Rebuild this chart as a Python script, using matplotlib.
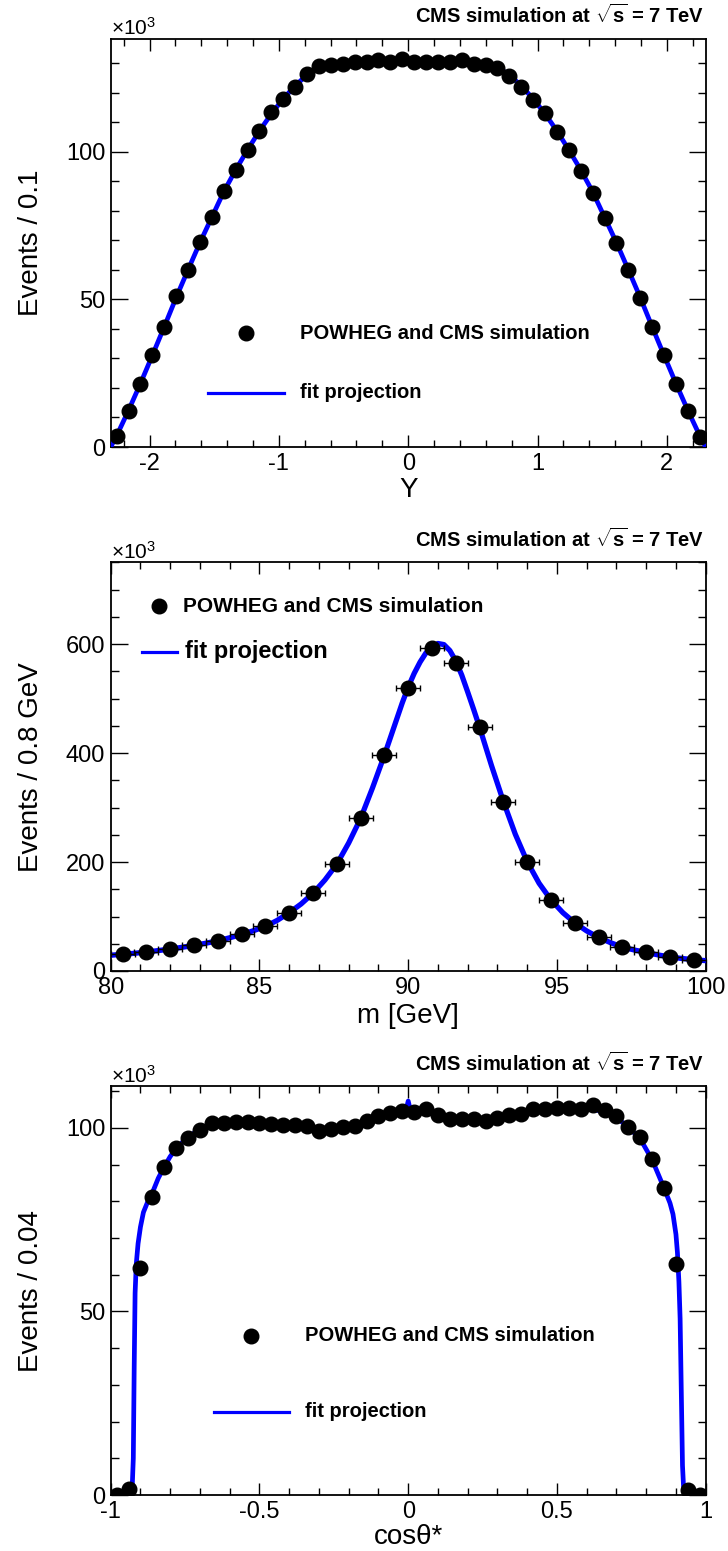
import numpy as np
import matplotlib
matplotlib.use("Agg")
import matplotlib.pyplot as plt
from matplotlib.ticker import MultipleLocator, FuncFormatter

plt.rcParams['font.family'] = ['Liberation Sans', 'DejaVu Sans']
plt.rcParams['axes.unicode_minus'] = False
plt.rcParams['mathtext.fontset'] = 'custom'
plt.rcParams['mathtext.rm'] = 'Liberation Sans'
plt.rcParams['mathtext.bf'] = 'Liberation Sans:bold'
plt.rcParams['mathtext.it'] = 'Liberation Sans:italic'

# ---------------- data (events in units of 10^3) ----------------
# Panel 1: rapidity Y, 50 bins in [-2.3, 2.3]
rap_range = (-2.3, 2.3)
rap_nbins = 50
rap_counts = [3.7, 12.3, 21.4, 31.2, 40.6, 51.0, 60.0, 69.4, 77.9, 86.8,
              93.8, 100.6, 107.0, 113.4, 117.7, 121.8, 126.3, 129.1, 129.3, 129.6,
              130.5, 130.5, 131.0, 130.5, 131.2, 130.2, 130.4, 130.4, 130.3, 131.0,
              129.6, 129.2, 128.4, 125.7, 121.8, 117.5, 113.0, 106.6, 100.5, 93.6,
              86.1, 77.6, 69.1, 59.8, 50.5, 40.7, 31.1, 21.3, 12.2, 3.5]
rap_fit = [0.0,
           3.8, 12.4, 21.5, 31.0, 40.7, 50.6, 60.0, 69.2, 77.8, 86.4,
           93.8, 100.6, 107.0, 112.8, 117.9, 122.3, 126.0, 128.6, 129.8, 130.2,
           130.4, 130.5, 130.6, 130.6, 130.6, 130.6, 130.6, 130.6, 130.5, 130.4,
           130.2, 129.8, 128.6, 126.0, 122.3, 117.9, 112.8, 107.0, 100.6, 93.8,
           86.4, 77.8, 69.2, 60.0, 50.6, 40.7, 31.0, 21.5, 12.4, 3.8,
           0.0]

# Panel 2: dilepton mass, 25 bins of 0.8 GeV in [80, 100]
mass_centers = [80.4, 81.2, 82.0, 82.8, 83.6, 84.4, 85.2, 86.0, 86.8, 87.6,
                88.4, 89.2, 90.0, 90.8, 91.6, 92.4, 93.2, 94.0, 94.8, 95.6,
                96.4, 97.2, 98.0, 98.8, 99.6]
mass_counts = [30.5, 34.8, 40.2, 47.0, 55.5, 67.0, 81.7, 107.0, 142.7, 196.0,
               280.0, 396.0, 520.0, 593.0, 566.0, 447.0, 311.0, 200.6, 130.5, 88.4,
               61.6, 43.9, 34.1, 25.6, 20.7]
mass_fit_x = [80.0, 80.4, 80.8, 81.2, 81.6, 82.0, 82.4, 82.8, 83.2, 83.6,
              84.0, 84.4, 84.8, 85.2, 85.6, 86.0, 86.4, 86.8, 87.2, 87.6,
              88.0, 88.4, 88.8, 89.2, 89.6, 89.8, 90.0, 90.2, 90.4, 90.6,
              90.8, 91.0, 91.2, 91.4, 91.6, 91.8, 92.0, 92.2, 92.4, 92.8,
              93.2, 93.6, 94.0, 94.4, 94.8, 95.2, 95.6, 96.0, 96.4, 96.8,
              97.2, 97.6, 98.0, 98.4, 98.8, 99.2, 99.6, 100.0]
mass_fit_y = [29.0, 30.5, 32.5, 34.8, 37.5, 40.2, 43.5, 47.0, 51.0, 55.5,
              61.0, 67.0, 74.0, 81.7, 93.0, 107.0, 123.0, 142.7, 167.0, 196.0,
              235.0, 280.0, 336.0, 396.0, 460.0, 492.0, 521.0, 546.0, 567.0, 584.0,
              595.0, 601.0, 599.0, 588.0, 569.0, 543.0, 512.0, 480.0, 447.0, 377.0,
              311.0, 251.0, 200.6, 161.0, 130.5, 107.0, 88.4, 73.5, 61.6, 52.0,
              43.9, 38.5, 34.1, 29.5, 25.6, 23.0, 20.7, 19.0]

# Panel 3: cos(theta*), 50 bins in [-1, 1]
cos_range = (-1.0, 1.0)
cos_nbins = 50
cos_counts = [0.0, 1.5, 61.8, 81.2, 89.4, 94.5, 97.3, 99.5, 101.4, 101.4,
              101.5, 101.5, 101.2, 101.1, 100.9, 100.7, 100.5, 99.1, 99.7, 100.3,
              100.6, 101.8, 103.2, 104.1, 104.5, 104.3, 105.0, 103.6, 102.5, 102.5,
              102.5, 101.8, 102.7, 103.4, 103.9, 105.0, 105.2, 105.5, 105.3, 105.2,
              106.3, 104.9, 103.1, 100.3, 97.5, 91.5, 83.6, 62.9, 1.4, 0.0]
cos_fit_x = [-1.0, -0.95, -0.928, -0.924, -0.921, -0.918, -0.914, -0.908, -0.90, -0.89,
             -0.875, -0.86, -0.84, -0.82, -0.80, -0.78, -0.76, -0.74, -0.72, -0.70,
             -0.66, -0.62, -0.58, -0.54, -0.50, -0.46, -0.42, -0.38, -0.34, -0.30,
             -0.26, -0.22, -0.18, -0.14, -0.10, -0.06, -0.02, -0.008, 0.0, 0.008,
             0.02, 0.06, 0.10, 0.14, 0.18, 0.22, 0.26, 0.30, 0.34, 0.38,
             0.42, 0.46, 0.50, 0.54, 0.58, 0.62, 0.66, 0.70, 0.74, 0.78,
             0.82, 0.86, 0.88, 0.89, 0.90, 0.905, 0.91, 0.914, 0.918, 0.922,
             0.926, 0.95, 1.0]
cos_fit_y = [0.3, 0.8, 1.5, 10.0, 35.0, 55.0, 63.0, 68.5, 73.0, 77.0,
             80.0, 82.3, 86.3, 89.4, 92.2, 94.3, 96.0, 97.4, 98.6, 99.6,
             100.9, 101.2, 101.3, 101.2, 101.0, 100.8, 100.6, 100.4, 100.2, 99.9,
             99.9, 100.2, 100.8, 101.8, 103.0, 103.9, 104.3, 104.6, 107.3, 104.6,
             104.3, 104.2, 103.5, 102.7, 102.3, 102.2, 102.2, 102.6, 103.2, 103.9,
             104.6, 105.0, 105.2, 105.2, 105.2, 105.0, 104.4, 102.8, 100.2, 97.0,
             91.3, 83.6, 79.5, 76.5, 71.0, 66.0, 58.0, 48.0, 28.0, 8.0,
             1.5, 0.8, 0.3]

header = r"CMS simulation at $\mathbf{\sqrt{s}}$ = 7 TeV"
data_label = "POWHEG and CMS simulation"
fit_label = "fit projection"

# ---------------- figure ----------------
W, H = 728, 1551
fig = plt.figure(figsize=(W / 100, H / 100), dpi=100)
fig.patch.set_facecolor('white')

left_px, right_px = 110.7, 705.7
panels_px = [(38.5, 447.0), (562.3, 971.0), (1086.0, 1495.0)]


def make_axes(top, bottom):
    return fig.add_axes([left_px / W, 1 - bottom / H,
                         (right_px - left_px) / W, (bottom - top) / H])


def fmt(v, pos):
    return '%g' % v


def style(ax, xmaj, xmin, ymaj, ymin):
    ax.xaxis.set_major_locator(MultipleLocator(xmaj))
    ax.xaxis.set_minor_locator(MultipleLocator(xmin))
    ax.yaxis.set_major_locator(MultipleLocator(ymaj))
    ax.yaxis.set_minor_locator(MultipleLocator(ymin))
    ax.xaxis.set_major_formatter(FuncFormatter(fmt))
    ax.yaxis.set_major_formatter(FuncFormatter(fmt))
    ax.tick_params(which='both', direction='in', top=True, right=True,
                   width=1.0, color='black', labelsize=17)
    ax.tick_params(axis='x', which='major', length=8.6, pad=4.0)
    ax.tick_params(axis='x', which='minor', length=4.7)
    ax.tick_params(axis='y', which='major', length=12.2, pad=4.0)
    ax.tick_params(axis='y', which='minor', length=6.1)
    for s in ax.spines.values():
        s.set_linewidth(1.3)
    ax.text(0.0, 1.009, r"$\times$10$^{3}$", transform=ax.transAxes,
            ha='left', va='baseline', fontsize=15)
    ax.text(0.998, 1.038, header, transform=ax.transAxes, ha='right',
            va='baseline', fontsize=14.5, fontweight='bold')


def legend(ax, mx, my, lx0, lx1, ly, tx, fs1, fs2, tx2=None):
    ax.plot([mx], [my], 'o', color='black', markersize=10.5,
            transform=ax.transAxes, clip_on=False)
    ax.text(tx, my, data_label, transform=ax.transAxes, ha='left',
            va='center', fontsize=fs1, fontweight='bold')
    ax.plot([lx0, lx1], [ly, ly], '-', color='#0000ff', linewidth=2.3,
            transform=ax.transAxes, clip_on=False)
    ax.text(tx if tx2 is None else tx2, ly, fit_label, transform=ax.transAxes,
            ha='left', va='center', fontsize=fs2, fontweight='bold')


def draw_points(ax, x, y, xerr):
    ax.errorbar(x, y, xerr=xerr, fmt='o', color='black', markersize=10.5,
                elinewidth=1.0, capsize=2.2, capthick=1.0, zorder=5)


# ----- Panel 1: rapidity -----
ax1 = make_axes(*panels_px[0])
rap_edges = np.linspace(rap_range[0], rap_range[1], rap_nbins + 1)
rap_centers = 0.5 * (rap_edges[:-1] + rap_edges[1:])
rap_halfw = 0.5 * (rap_edges[1] - rap_edges[0])
rap_fit_x = np.concatenate([[rap_range[0]], rap_centers, [rap_range[1]]])
ax1.plot(rap_fit_x, rap_fit, '-', color='#0000ff', linewidth=3.4, zorder=3)
draw_points(ax1, rap_centers, rap_counts, rap_halfw)
ax1.set_xlim(*rap_range)
ax1.set_ylim(0, 138.3)
style(ax1, 1, 0.2, 50, 10)
ax1.set_xlabel('Y', fontsize=20, va='center')
ax1.xaxis.set_label_coords(0.5, -0.105)
ax1.set_ylabel('Events / 0.1', fontsize=20, va='center')
ax1.yaxis.set_label_coords(-0.134, 0.5)
legend(ax1, 0.2274, 0.279, 0.1635, 0.2914, 0.1324, 0.318, 14.5, 14.5)

# ----- Panel 2: mass -----
ax2 = make_axes(*panels_px[1])
ax2.plot(mass_fit_x, mass_fit_y, '-', color='#0000ff', linewidth=3.8, zorder=3)
draw_points(ax2, mass_centers, mass_counts, 0.4)
ax2.set_xlim(80, 100)
ax2.set_ylim(0, 750)
style(ax2, 5, 1, 200, 50)
ax2.set_xlabel('m [GeV]', fontsize=20, va='center')
ax2.xaxis.set_label_coords(0.5, -0.109)
ax2.set_ylabel('Events / 0.8 GeV', fontsize=20, va='center')
ax2.yaxis.set_label_coords(-0.134, 0.5)
legend(ax2, 0.0807, 0.892, 0.0526, 0.1114, 0.7807, 0.1215, 15, 17, tx2=0.1249)

# ----- Panel 3: cos theta* -----
ax3 = make_axes(*panels_px[2])
cos_edges = np.linspace(cos_range[0], cos_range[1], cos_nbins + 1)
cos_centers = 0.5 * (cos_edges[:-1] + cos_edges[1:])
cos_halfw = 0.5 * (cos_edges[1] - cos_edges[0])
ax3.plot(cos_fit_x, cos_fit_y, '-', color='#0000ff', linewidth=3.4, zorder=3)
draw_points(ax3, cos_centers, cos_counts, cos_halfw)
ax3.set_xlim(*cos_range)
ax3.set_ylim(0, 111.4)
style(ax3, 0.5, 0.1, 50, 10)
ax3.set_xlabel('cos\u03b8*', fontsize=20, va='center')
ax3.xaxis.set_label_coords(0.5, -0.102)
ax3.set_ylabel('Events / 0.04', fontsize=20, va='center')
ax3.yaxis.set_label_coords(-0.134, 0.5)
legend(ax3, 0.2357, 0.389, 0.1731, 0.2997, 0.2037, 0.3264, 14.5, 14.5)

fig.savefig('out.png', dpi=100, facecolor='white')
